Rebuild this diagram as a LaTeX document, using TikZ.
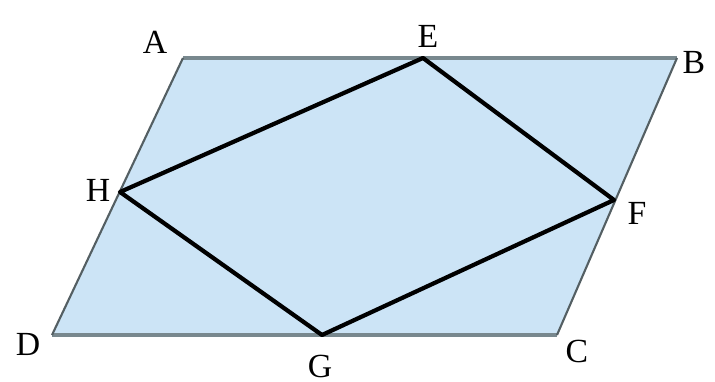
\documentclass[tikz,border=0pt]{standalone}
\usepackage{fontspec}
\setmainfont{Liberation Serif}
\definecolor{pgfill}{RGB}{204,228,246}
\definecolor{pgedge}{RGB}{120,136,142}
\begin{document}
\begin{tikzpicture}[x=0.01cm, y=-0.01cm,
  vlabel/.style={font=\fontsize{9.6}{11}\selectfont, inner sep=0pt},
  outer/.style={draw=pgedge, fill=pgfill},
  inner/.style={draw=black, line width=1.2pt, line join=round}
]
\useasboundingbox (0,0) rectangle (715,382);
% vertices
\coordinate (A) at (183,58);
\coordinate (B) at (677,58);
\coordinate (C) at (557,335);
\coordinate (D) at (52,335);
\coordinate (E) at (423,58);
\coordinate (F) at (614,200);
\coordinate (G) at (322,335);
\coordinate (H) at (120,192);
% parallelogram
\fill[pgfill] (A) -- (B) -- (C) -- (D) -- cycle;
\draw[pgedge, line width=1.1pt] (D) -- (C);
\draw[pgedge, line width=1.1pt] (A) -- (B);
\draw[pgedge!70!black, line width=0.6pt] (B) -- (C);
\draw[pgedge!70!black, line width=0.6pt] (A) -- (D);
% inner quadrilateral
\draw[inner] (E) -- (F) -- (G) -- (H) -- cycle;
% labels
\node[vlabel] (lA) at (155,42) {A};
\node[vlabel] (lB) at (694,62) {B};
\node[vlabel] (lC) at (577,351) {C};
\node[vlabel] (lD) at (28,344) {D};
\node[vlabel] (lE) at (428,36) {E};
\node[vlabel] (lF) at (637,213) {F};
\node[vlabel] (lG) at (320,366) {G};
\node[vlabel] (lH) at (98,190) {H};
\end{tikzpicture}
\end{document}
